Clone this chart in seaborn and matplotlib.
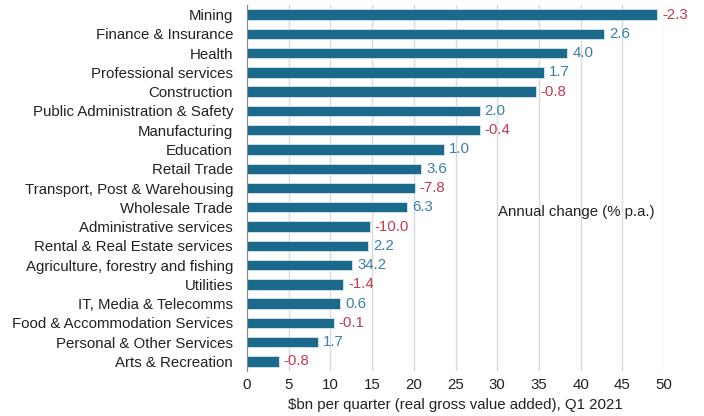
import numpy as np
import pandas as pd
import matplotlib
matplotlib.use("Agg")
import matplotlib.pyplot as plt
import seaborn as sns

# ------------------------------------------------------------------
# Data
# ------------------------------------------------------------------
industries = [
    "Mining", "Finance & Insurance", "Health", "Professional services",
    "Construction", "Public Administration & Safety", "Manufacturing",
    "Education", "Retail Trade", "Transport, Post & Warehousing",
    "Wholesale Trade", "Administrative services", "Rental & Real Estate services",
    "Agriculture, forestry and fishing", "Utilities", "IT, Media & Telecomms",
    "Food & Accommodation Services", "Personal & Other Services", "Arts & Recreation",
]
gva_bn = [49.2, 42.8, 38.4, 35.6, 34.6, 27.9, 27.9, 23.6, 20.9, 20.1,
          19.2, 14.7, 14.5, 12.6, 11.5, 11.2, 10.4, 8.5, 3.8]
annual_change = [-2.3, 2.6, 4.0, 1.7, -0.8, 2.0, -0.4, 1.0, 3.6, -7.8,
                 6.3, -10.0, 2.2, 34.2, -1.4, 0.6, -0.1, 1.7, -0.8]

df = pd.DataFrame({"industry": industries, "gva": gva_bn, "change": annual_change})

sns.set_style("white")
plt.rcParams["font.family"] = ["Liberation Sans", "DejaVu Sans"]

bar_col = "#1c6a8b"
pos_col = "#3a80a8"
neg_col = "#c23a4e"
fs = 10.8

fig = plt.figure(figsize=(7.04, 4.16), dpi=100)
ax = fig.add_axes([247 / 704, 45 / 416, (664 - 247) / 704, (411 - 45) / 416])

sns.barplot(data=df, y="industry", x="gva", orient="h", color=bar_col,
            saturation=1, width=0.54, edgecolor="#d6e6ee", linewidth=0.6, ax=ax)

for i, (v, c) in enumerate(zip(df["gva"], df["change"])):
    ax.text(v + 0.6, i, f"{c:.1f}", va="center", ha="left", fontsize=fs,
            color=pos_col if c >= 0 else neg_col, clip_on=False)

ax.text(30.1, 10.25, "Annual change (% p.a.)", fontsize=fs, color="#222222",
        va="center", ha="left")

ax.set_xlim(0, 50)
ax.set_ylim(len(industries) - 0.5, -0.5)
ax.set_xticks(np.arange(0, 55, 5))
ax.xaxis.grid(True, color="#d9d9d9", linewidth=1)
ax.set_axisbelow(True)

ax.set_xlabel("$bn per quarter (real gross value added), Q1 2021", fontsize=fs,
              color="#222222", labelpad=4)
ax.set_ylabel("")

# category boundary ticks on the left spine
ax.set_yticks(np.arange(len(industries)))
ax.set_yticklabels(industries, fontsize=fs, color="#222222")
ax.tick_params(axis="y", length=0, pad=10)
ax.set_yticks(np.arange(-0.5, len(industries), 1), minor=True)
ax.tick_params(axis="y", which="minor", length=4, color="#888888", width=0.8)
ax.tick_params(axis="x", length=0, labelsize=fs, labelcolor="#222222", pad=5)

for side in ["top", "right", "bottom"]:
    ax.spines[side].set_visible(False)
ax.spines["left"].set_color("#888888")
ax.spines["left"].set_linewidth(0.8)

fig.savefig("out.png", dpi=100)
